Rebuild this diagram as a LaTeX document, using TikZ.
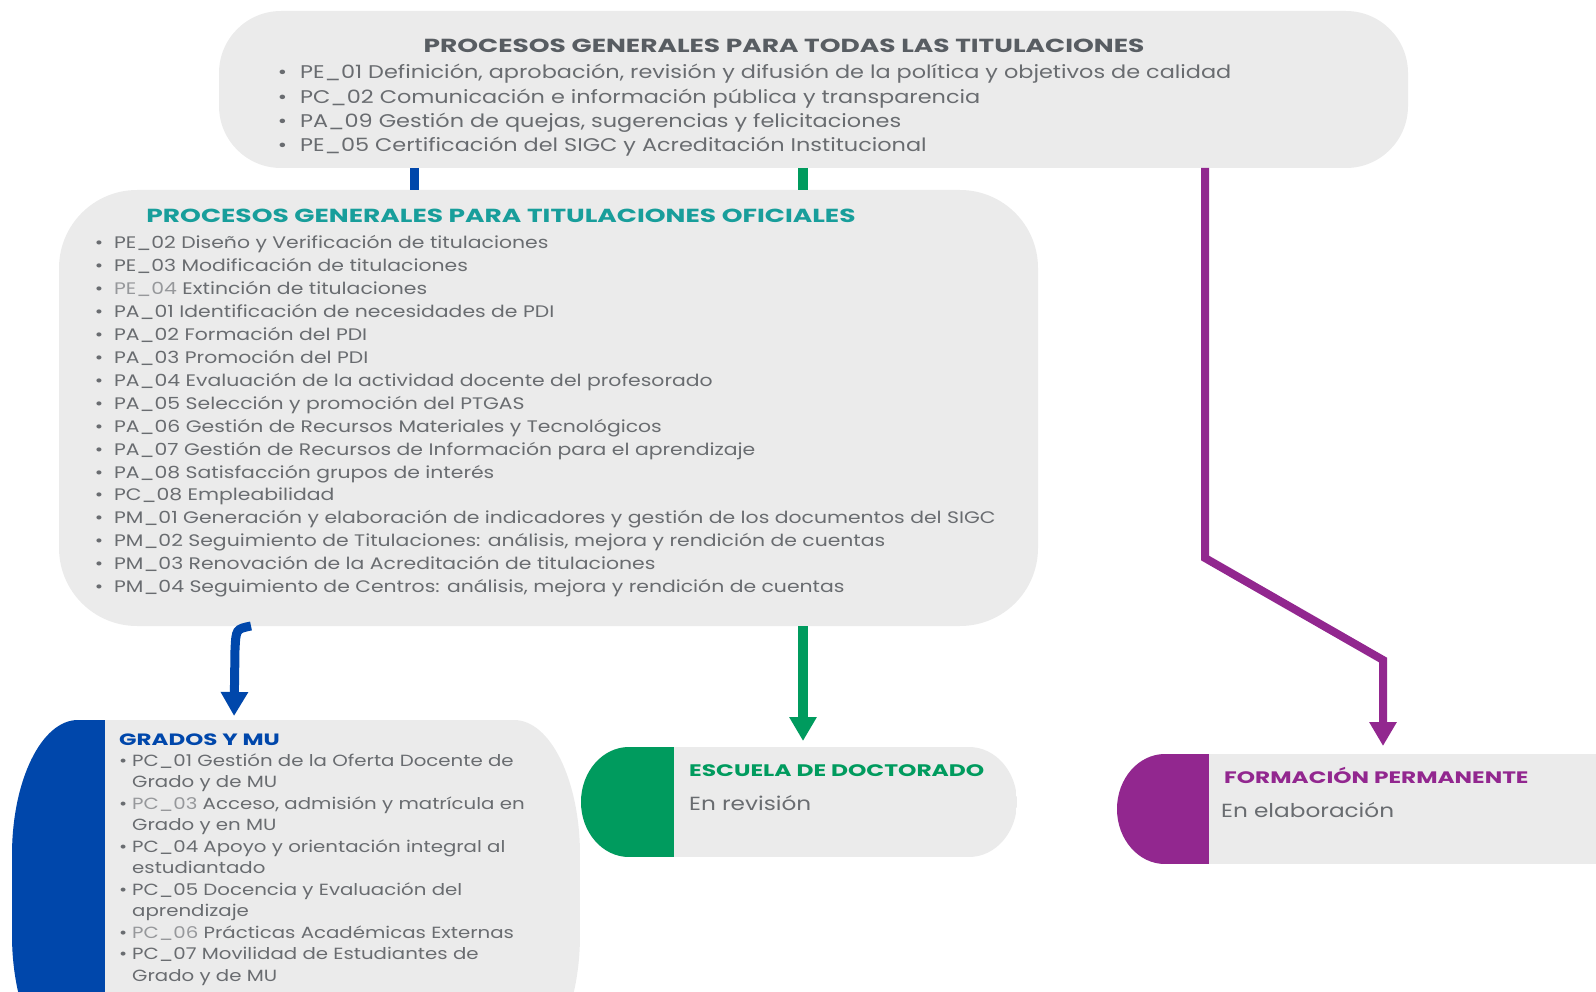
\documentclass[tikz,border=0pt]{standalone}
\usepackage{fontspec}
\setmainfont{Poppins}
\newfontfamily\bodyf{Poppins}[FakeStretch=1.22]
\newfontfamily\ttlf{Poppins}[FakeStretch=1.4]
\usetikzlibrary{arrows.meta}
\definecolor{bluec}{RGB}{0,71,171}
\definecolor{greenc}{RGB}{0,155,94}
\definecolor{purplec}{RGB}{146,39,143}
\definecolor{boxgray}{RGB}{235,235,235}
\definecolor{txtgray}{RGB}{105,108,112}
\definecolor{titgray}{RGB}{88,93,98}
\definecolor{tealc}{RGB}{24,158,155}
\definecolor{lightg}{RGB}{150,152,155}
\newcommand\rbox[6]{(#1+#5,#2) -- (#3-#5,#2) arc[start angle=270,end angle=360,x radius=#5,y radius=#6] -- (#3,#4-#6) arc[start angle=0,end angle=90,x radius=#5,y radius=#6] -- (#1+#5,#4) arc[start angle=90,end angle=180,x radius=#5,y radius=#6] -- (#1,#2+#6) arc[start angle=180,end angle=270,x radius=#5,y radius=#6] -- cycle}
\newcommand\bul[1]{\llap{\textbullet\hspace{#1pt}}}
\newcommand\lt[1]{\textcolor{lightg}{#1}}
\tikzset{
  boxn/.style={draw=none,inner sep=0pt,outer sep=0pt},
  body/.style={anchor=base west,inner sep=0pt,text=txtgray,font=\bodyf\fontsize{#1}{20}\selectfont},
  body/.default=16.7,
  ttl/.style={anchor=base,inner sep=0pt,font=\ttlf\fontsize{18.9}{22}\selectfont\bfseries},
  sttl/.style={anchor=base west,inner sep=0pt,font=\ttlf\fontsize{#1}{22}\selectfont\bfseries},
  conn/.style={line width=#1,line cap=butt},
  tipA/.style={-{Triangle[width=26pt,length=24pt]}},
}
\begin{document}
\begin{tikzpicture}[x=1pt,y=-1pt]
\useasboundingbox (0,0) rectangle (1596,992);
\clip (0,0) rectangle (1596,992);
% boxes
\fill[boxgray] \rbox{219}{11}{1408}{168}{62}{62};
\fill[boxgray] \rbox{59}{190}{1038}{626}{78}{78};
\begin{scope}
\clip \rbox{12}{720}{580}{1070}{66}{135};
\fill[boxgray] (12,720) rectangle (580,1070);
\fill[bluec] (12,720) rectangle (105,1070);
\end{scope}
\begin{scope}
\clip \rbox{581}{747}{1017}{857}{48}{55};
\fill[boxgray] (581,747) rectangle (1017,857);
\fill[greenc] (581,747) rectangle (674,857);
\end{scope}
\begin{scope}
\clip \rbox{1117}{754}{1640}{864}{48}{55};
\fill[boxgray] (1117,754) rectangle (1640,864);
\fill[purplec] (1117,754) rectangle (1209,864);
\end{scope}
% named box nodes
\node[boxn,minimum width=1189pt,minimum height=157pt] (top) at (813.5,89.5) {};
\node[boxn,minimum width=979pt,minimum height=436pt] (sec) at (548.5,408) {};
\node[boxn,minimum width=568pt,minimum height=350pt] (grad) at (296,895) {};
\node[boxn,minimum width=436pt,minimum height=110pt] (esc) at (799,802) {};
\node[boxn,minimum width=523pt,minimum height=110pt] (form) at (1378.5,809) {};
\coordinate (bx) at (414,0);
\coordinate (gx) at (803,0);
\coordinate (px) at (1205,0);
\coordinate (bs) at (251,626);
\coordinate (bt) at (234,0);
\coordinate (pb) at (1205,558);
\coordinate (pc) at (1383,660);
% connectors
\draw[conn=9pt,bluec] (top.south -| bx) -- (sec.north -| bx);
\draw[conn=10pt,greenc] (top.south -| gx) -- (sec.north -| gx);
\draw[conn=9pt,bluec,tipA,shorten >=4pt] (bs) .. controls (236,629) .. (235,650) -- (grad.north -| bt);
\draw[conn=10pt,greenc,tipA,shorten >=6pt] (sec.south -| gx) -- (esc.north -| gx);
\draw[conn=8pt,purplec,tipA,shorten >=8pt] (top.south -| px) -- (pb) -- (pc) -- (form.north -| pc);
% top texts
\node[ttl,text=titgray] (t0) at (784,52.5) {PROCESOS GENERALES PARA TODAS LAS TITULACIONES};
\foreach \t [count=\i] in {
 {PE\_01 Definición, aprobación, revisión y difusión de la política y objetivos de calidad},
 {PC\_02 Comunicación e información pública y transparencia},
 {PA\_09 Gestión de quejas, sugerencias y felicitaciones},
 {PE\_05 Certificación del SIGC y Acreditación Institucional}}
 \node[body=18.35,name=ta\i] at (300,{79+24.2*(\i-1)}) {\bul{13}\t};
% second box
\node[ttl,text=tealc] (s0) at (501,223) {PROCESOS GENERALES PARA TITULACIONES OFICIALES};
\foreach \t [count=\i] in {
 {PE\_02 Diseño y Verificación de titulaciones},
 {PE\_03 Modificación de titulaciones},
 {\lt{PE\_04} Extinción de titulaciones},
 {PA\_01 Identificación de necesidades de PDI},
 {PA\_02 Formación del PDI},
 {PA\_03 Promoción del PDI},
 {PA\_04 Evaluación de la actividad docente del profesorado},
 {PA\_05 Selección y promoción del PTGAS},
 {PA\_06 Gestión de Recursos Materiales y Tecnológicos},
 {PA\_07 Gestión de Recursos de Información para el aprendizaje},
 {PA\_08 Satisfacción grupos de interés},
 {PC\_08 Empleabilidad},
 {PM\_01 Generación y elaboración de indicadores y gestión de los documentos del SIGC},
 {PM\_02 Seguimiento de Titulaciones: análisis, mejora y rendición de cuentas},
 {PM\_03 Renovación de la Acreditación de titulaciones},
 {PM\_04 Seguimiento de Centros: análisis, mejora y rendición de cuentas}}
 \node[body=16.7,name=sa\i] at (114,{249+22.9*(\i-1)}) {\bul{11}\t};
% grados
\node[sttl=16.4,text=bluec] (g0) at (119,745) {GRADOS Y MU};
\foreach \t [count=\i] in {
 {\bul{5}PC\_01 Gestión de la Oferta Docente de},
 {Grado y de MU},
 {\bul{5}\lt{PC\_03} Acceso, admisión y matrícula en},
 {Grado y en MU},
 {\bul{5}PC\_04 Apoyo y orientación integral al},
 {estudiantado},
 {\bul{5}PC\_05 Docencia y Evaluación del},
 {aprendizaje},
 {\bul{5}\lt{PC\_06} Prácticas Académicas Externas},
 {\bul{5}PC\_07 Movilidad de Estudiantes de},
 {Grado y de MU}}
 \node[body=16.2,name=ga\i] at (132,{766+21.5*(\i-1)}) {\t};
% escuela
\node[sttl=16.7,text=greenc] (e0) at (689,776) {ESCUELA DE DOCTORADO};
\node[body=19] (e1) at (689,810) {En revisión};
% formacion
\node[sttl=16.6,text=purplec] (f0) at (1224,783) {FORMACIÓN PERMANENTE};
\node[body=19] (f1) at (1221,817) {En elaboración};
\end{tikzpicture}
\end{document}
